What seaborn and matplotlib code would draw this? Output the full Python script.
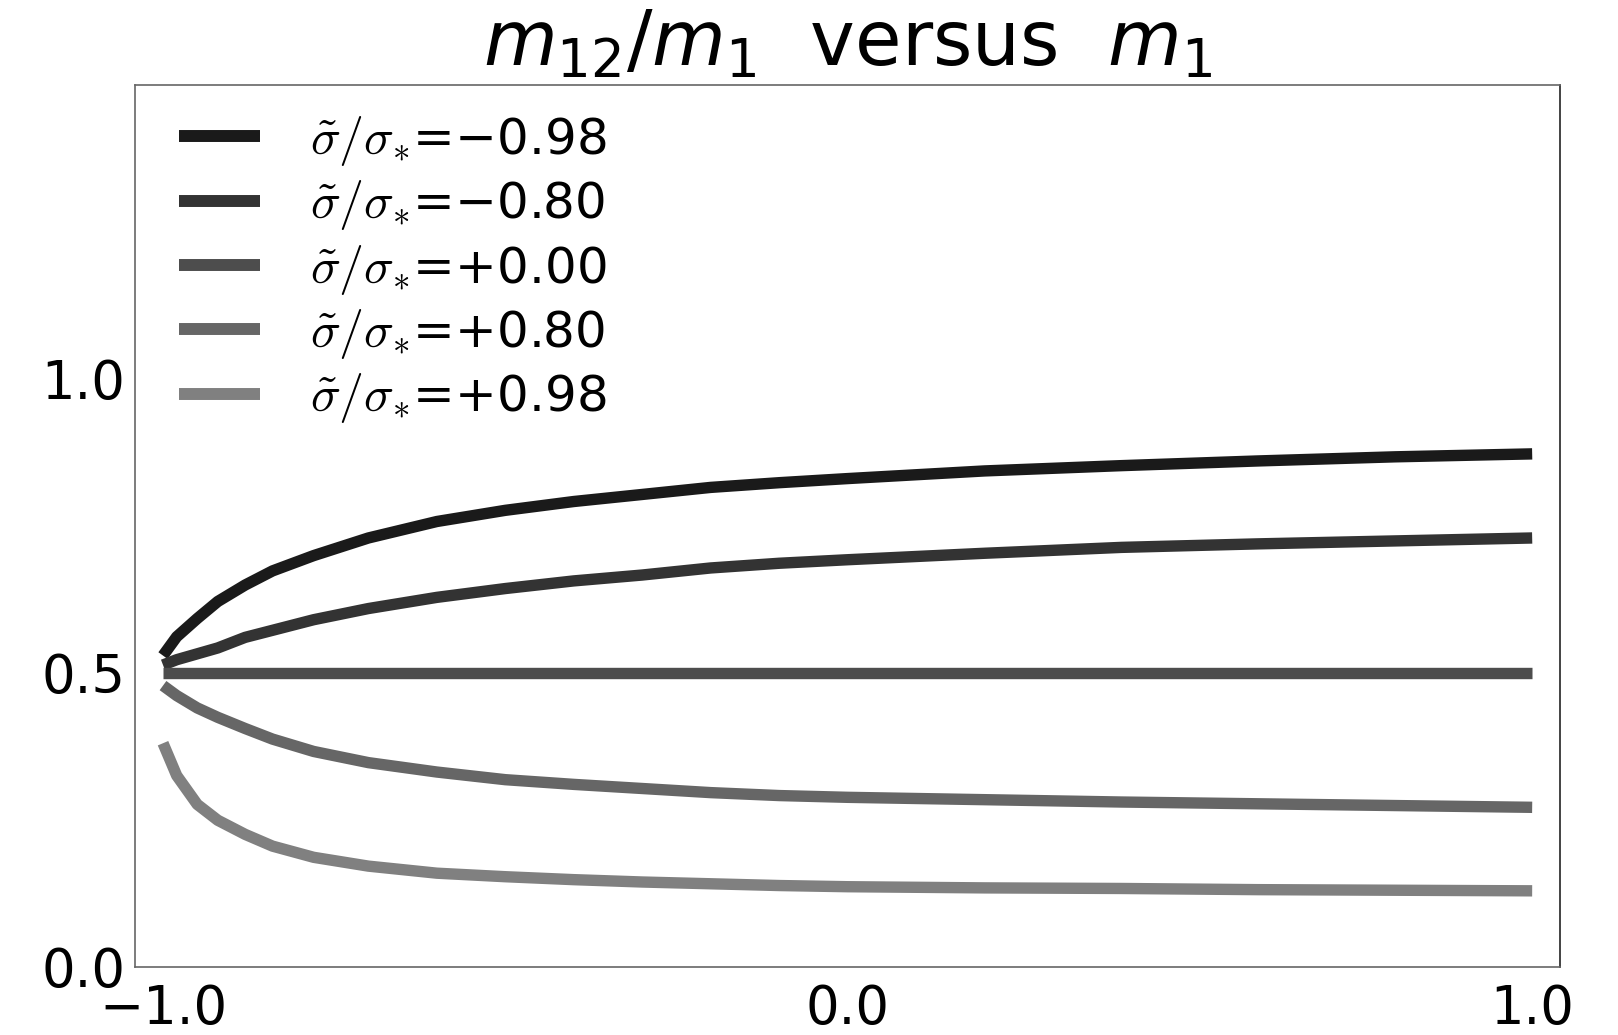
import numpy as np
import pandas as pd
import matplotlib
matplotlib.use("Agg")
import matplotlib.pyplot as plt
from matplotlib.font_manager import FontProperties
import seaborn as sns

# valores
m1 = [-1.0, -0.98, -0.95, -0.92, -0.88, -0.84, -0.78, -0.70, -0.60, -0.50,
      -0.40, -0.30, -0.20, -0.10, 0.0, 0.2, 0.4, 0.6, 0.8, 1.0]

razao_m098 = [0.529, 0.561, 0.592, 0.621, 0.649, 0.673, 0.699, 0.729, 0.757, 0.776,
              0.791, 0.803, 0.815, 0.823, 0.830, 0.843, 0.852, 0.860, 0.867, 0.872]
razao_m080 = [0.513, 0.522, 0.532, 0.542, 0.560, 0.572, 0.590, 0.609, 0.628, 0.643,
              0.656, 0.666, 0.678, 0.686, 0.692, 0.703, 0.713, 0.719, 0.724, 0.729]
razao_p000 = [0.5] * 20
razao_p080 = [0.478, 0.461, 0.440, 0.424, 0.405, 0.387, 0.366, 0.347, 0.331, 0.318,
              0.310, 0.303, 0.296, 0.291, 0.288, 0.284, 0.280, 0.277, 0.274, 0.271]
razao_p098 = [0.380, 0.325, 0.276, 0.249, 0.225, 0.205, 0.186, 0.171, 0.159, 0.153,
              0.148, 0.144, 0.141, 0.138, 0.136, 0.134, 0.133, 0.131, 0.130, 0.129]

rotulos = [r"$\tilde{\sigma}/\sigma_{*}$=−0.98",
           r"$\tilde{\sigma}/\sigma_{*}$=−0.80",
           r"$\tilde{\sigma}/\sigma_{*}$=+0.00",
           r"$\tilde{\sigma}/\sigma_{*}$=+0.80",
           r"$\tilde{\sigma}/\sigma_{*}$=+0.98"]
cores = ["#1a1a1a", "#333333", "#4d4d4d", "#666666", "#808080"]

series = [razao_m098, razao_m080, razao_p000, razao_p080, razao_p098]
df = pd.concat([pd.DataFrame({"m1": m1, "razao": s, "curva": r})
                for s, r in zip(series, rotulos)], ignore_index=True)

sns.set_style("white")
plt.rcParams["font.family"] = ["DejaVu Sans"]
plt.rcParams["mathtext.fontset"] = "dejavusans"
plt.rcParams["text.color"] = "black"

fig = plt.figure(figsize=(16.18, 10.35), dpi=100)
ax = fig.add_axes([0.0834, 0.066, 0.8809, 0.8523])

sns.lineplot(data=df, x="m1", y="razao", hue="curva", hue_order=rotulos,
             palette=dict(zip(rotulos, cores)), linewidth=8.2, sort=False,
             estimator=None, solid_capstyle="butt", solid_joinstyle="round", ax=ax)

ax.set_xlim(-1.041, 1.041)
ax.set_ylim(0, 1.5)
ax.set_xticks([-1.0, 0.0, 1.0])
ax.set_yticks([0.0, 0.5, 1.0])
ax.set_xticklabels(["−1.0", "0.0", "1.0"])
ax.set_yticklabels(["0.0", "0.5", "1.0"])
ax.set_xlabel("")
ax.set_ylabel("")
ax.tick_params(direction="in", length=8, width=1, color="#666666",
               labelsize=38, labelcolor="black")
ax.tick_params(axis="x", pad=12)
ax.tick_params(axis="y", pad=7)
for lado in ["left", "bottom", "top"]:
    ax.spines[lado].set_color("#666666")
ax.spines["right"].set_color("#222222")
for s in ax.spines.values():
    s.set_linewidth(1.2)

ax.set_title(r"$m_{12}/m_1$  versus  $m_1$", fontsize=54.5, pad=14, color="black")

handles, labels = ax.get_legend_handles_labels()
fonte = FontProperties(family="DejaVu Sans", size=36, math_fontfamily="cm")
leg = ax.legend(handles, labels, loc="upper left", bbox_to_anchor=(0.0025, 1.012),
                frameon=False, prop=fonte, handlelength=1.62, handletextpad=1.0,
                labelspacing=0.206, borderaxespad=0.3, borderpad=0.5)
for h in leg.legend_handles:
    h.set_linewidth(8.6)
    h.set_solid_capstyle("butt")

fig.savefig("out.png", dpi=100)
